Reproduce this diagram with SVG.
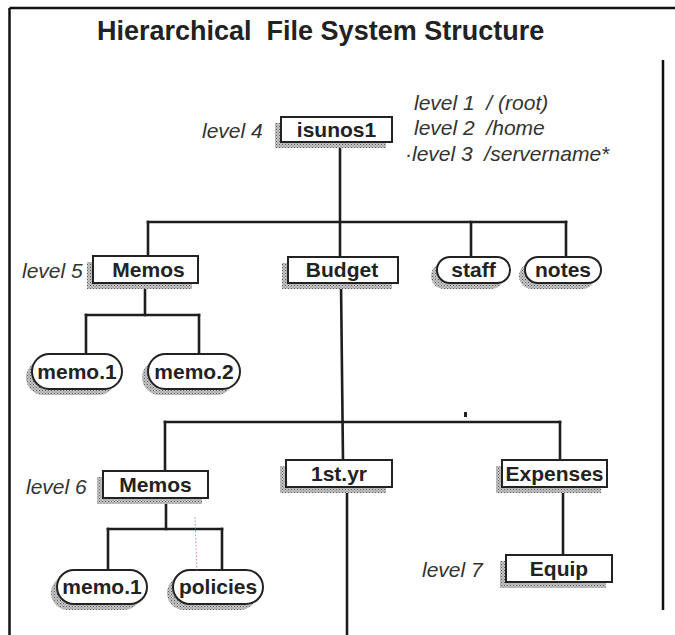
<svg xmlns="http://www.w3.org/2000/svg" width="675" height="635" viewBox="0 0 675 635">
  <defs>
    <pattern id="hatch" width="3" height="3" patternUnits="userSpaceOnUse">
      <rect width="3" height="3" fill="#c4c4c4"/>
      <rect width="1" height="1" fill="#5a5a5a"/>
      <rect x="1.5" y="1.5" width="1" height="1" fill="#7a7a7a"/>
    </pattern>
  </defs>
  <style>
    text { white-space: pre; }
    .title { font-family: "Liberation Sans", Arial, sans-serif; font-weight: bold; font-size: 27px; fill: #222; }
    .lbl { font-family: "Liberation Sans", Arial, sans-serif; font-weight: bold; font-size: 21px; fill: #222; text-anchor: middle; }
    .lvl { font-family: "Liberation Sans", Arial, sans-serif; font-style: italic; font-size: 21px; fill: #333; }
    .box { fill: #fff; stroke: #222; stroke-width: 2; }
    .shadow { fill: url(#hatch); stroke: none; }
    .conn { stroke: #1e1e1e; stroke-width: 2.6; fill: none; stroke-linecap: square; }
    .frame { stroke: #111; stroke-width: 2.5; fill: none; }
  </style>
  <rect width="675" height="635" fill="#fff"/>

  <!-- frame -->
  <g id="frame">
    <line class="frame" x1="9.5" y1="8" x2="675" y2="8"/>
    <line class="frame" x1="9.5" y1="8" x2="9.5" y2="635"/>
    <line class="frame" x1="663" y1="60" x2="663" y2="610"/>
  </g>

  <text class="title" x="97" y="40" xml:space="preserve">Hierarchical  File System Structure</text>

  <!-- level annotations -->
  <g id="levels">
    <text class="lvl" x="414" y="110" xml:space="preserve">level 1  / (root)</text>
    <text class="lvl" x="414" y="135" xml:space="preserve">level 2  /home</text>
    <text class="lvl" x="405" y="161" xml:space="preserve">·level 3  /servername*</text>
    <text class="lvl" x="202" y="138">level 4</text>
    <text class="lvl" x="22" y="278">level 5</text>
    <text class="lvl" x="26" y="494">level 6</text>
    <text class="lvl" x="422" y="577">level 7</text>
  </g>

  <!-- connectors -->
  <g id="connectors">
    <line class="conn" x1="340" y1="143" x2="340" y2="257"/>
    <line class="conn" x1="148" y1="222" x2="566" y2="222"/>
    <line class="conn" x1="148" y1="222" x2="148" y2="257"/>
    <line class="conn" x1="471" y1="222" x2="471" y2="257"/>
    <line class="conn" x1="566" y1="222" x2="566" y2="257"/>
    <line class="conn" x1="145" y1="283" x2="145" y2="315"/>
    <line class="conn" x1="86" y1="315" x2="199" y2="315"/>
    <line class="conn" x1="86" y1="315" x2="86" y2="354"/>
    <line class="conn" x1="199" y1="315" x2="199" y2="354"/>
    <line class="conn" x1="341" y1="283" x2="343" y2="460"/>
    <line class="conn" x1="165" y1="422" x2="560" y2="422"/>
    <line class="conn" x1="165" y1="422" x2="165" y2="471"/>
    <line class="conn" x1="560" y1="422" x2="560" y2="460"/>
    <line class="conn" x1="347" y1="487" x2="347" y2="635"/>
    <line class="conn" x1="563" y1="487" x2="563" y2="555"/>
    <line class="conn" x1="166" y1="498" x2="166" y2="529"/>
    <line class="conn" x1="108" y1="529" x2="222" y2="529"/>
    <line class="conn" x1="108" y1="529" x2="108" y2="570"/>
    <line class="conn" x1="222" y1="529" x2="222" y2="570"/>
    <rect x="464" y="412" width="3" height="5" fill="#222"/>
  </g>

  <!-- nodes -->
  <g id="isunos1">
    <rect class="shadow" x="275" y="123" width="111" height="25"/>
    <rect class="box" x="281" y="117" width="111" height="25"/>
    <text class="lbl" x="336.5" y="137">isunos1</text>
  </g>
  <g id="memos5">
    <rect class="shadow" x="87" y="262" width="105" height="27"/>
    <rect class="box" x="93" y="256" width="105" height="27"/>
    <text class="lbl" x="148.5" y="277">Memos</text>
  </g>
  <g id="budget">
    <rect class="shadow" x="282" y="263" width="110" height="26"/>
    <rect class="box" x="288" y="257" width="110" height="26"/>
    <text class="lbl" x="342" y="277">Budget</text>
  </g>
  <g id="staff">
    <rect class="shadow" x="431" y="263" width="73" height="26" rx="13"/>
    <rect class="box" x="437" y="257" width="73" height="26" rx="13"/>
    <text class="lbl" x="473.5" y="277">staff</text>
  </g>
  <g id="notes">
    <rect class="shadow" x="519" y="263" width="76" height="26" rx="13"/>
    <rect class="box" x="525" y="257" width="76" height="26" rx="13"/>
    <text class="lbl" x="563" y="277">notes</text>
  </g>
  <g id="memo1a">
    <rect class="shadow" x="26" y="360" width="90" height="35" rx="17.5"/>
    <rect class="box" x="32" y="354" width="90" height="35" rx="17.5"/>
    <text class="lbl" x="77" y="379">memo.1</text>
  </g>
  <g id="memo2">
    <rect class="shadow" x="142" y="360" width="92" height="35" rx="17.5"/>
    <rect class="box" x="148" y="354" width="92" height="35" rx="17.5"/>
    <text class="lbl" x="194" y="379">memo.2</text>
  </g>
  <g id="memos6">
    <rect class="shadow" x="97" y="477" width="105" height="27"/>
    <rect class="box" x="103" y="471" width="105" height="27"/>
    <text class="lbl" x="155.5" y="492">Memos</text>
  </g>
  <g id="firstyr">
    <rect class="shadow" x="280" y="466" width="106" height="27"/>
    <rect class="box" x="286" y="460" width="106" height="27"/>
    <text class="lbl" x="339" y="481">1st.yr</text>
  </g>
  <g id="expenses">
    <rect class="shadow" x="496" y="466" width="105" height="27"/>
    <rect class="box" x="502" y="460" width="105" height="27"/>
    <text class="lbl" x="554.5" y="481">Expenses</text>
  </g>
  <g id="equip">
    <rect class="shadow" x="500" y="561" width="106" height="27"/>
    <rect class="box" x="506" y="555" width="106" height="27"/>
    <text class="lbl" x="559" y="576">Equip</text>
  </g>
  <g id="memo1b">
    <rect class="shadow" x="51" y="576" width="90" height="34" rx="17"/>
    <rect class="box" x="57" y="570" width="90" height="34" rx="17"/>
    <text class="lbl" x="102" y="594">memo.1</text>
  </g>
  <g id="policies">
    <rect class="shadow" x="167" y="576" width="90" height="34" rx="17"/>
    <rect class="box" x="173" y="570" width="90" height="34" rx="17"/>
    <text class="lbl" x="218" y="594">policies</text>
  </g>

  <!-- scan mark -->
  <line x1="195" y1="517" x2="197" y2="573" stroke="#e0407a" stroke-width="1" stroke-dasharray="1.5 2" opacity="0.7"/>
</svg>
